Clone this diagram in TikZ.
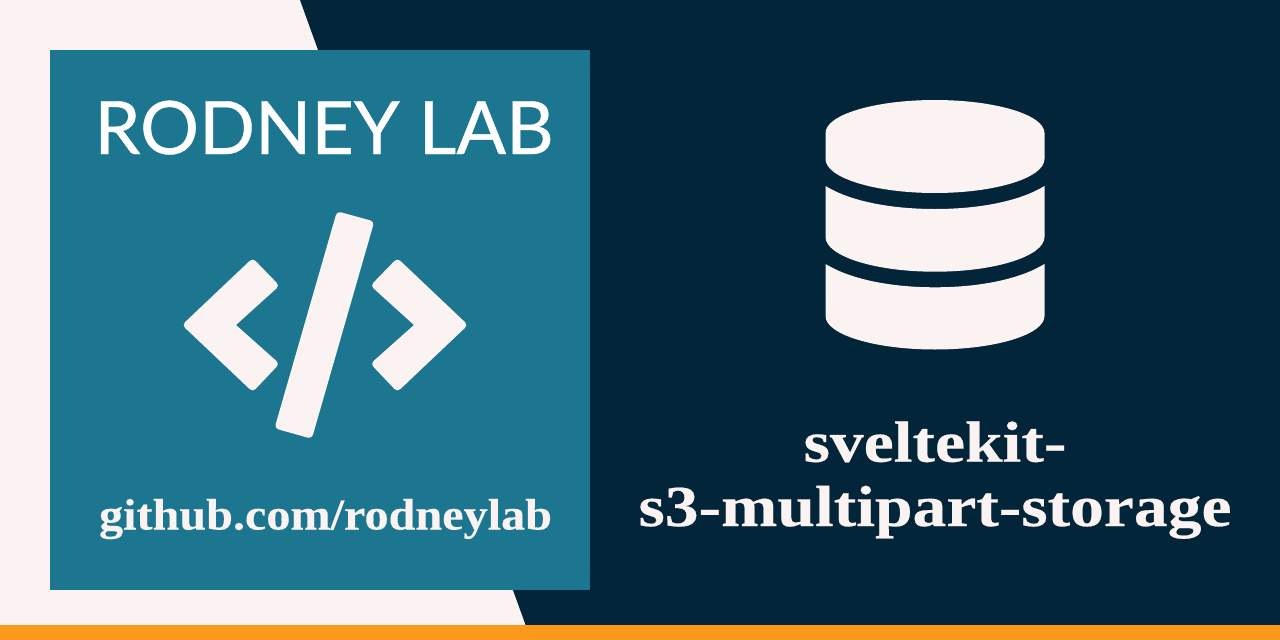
\documentclass[tikz,border=0pt]{standalone}
\usepackage{fontspec}
\setmainfont{Liberation Serif}
\newfontfamily\latofont[FakeBold=0.6]{Lato}
\newfontfamily\namefont[FakeStretch=1.165,FakeBold=0.4]{Liberation Serif}
\newfontfamily\linkfont[FakeStretch=1.095,FakeBold=0.3]{Liberation Serif}
\definecolor{rdark}{HTML}{032539}
\definecolor{rteal}{HTML}{1C768F}
\definecolor{rorange}{HTML}{FA991C}
\definecolor{rlight}{HTML}{FBF3F2}
\tikzset{
  iconshape/.style={fill=rlight,draw=none},
  titletext/.style={text=white,inner sep=0pt,anchor=base,font=\latofont\fontsize{73.6}{73.6}\selectfont},
  serifbold/.style={text=rlight,inner sep=0pt,anchor=base,font=\namefont\bfseries\fontsize{58}{58}\selectfont},
  linktext/.style={text=rlight,inner sep=0pt,anchor=base,font=\linkfont\bfseries\fontsize{44}{44}\selectfont}
}
\begin{document}
\begin{tikzpicture}[x=1pt,y=-1pt]
\useasboundingbox (0,0) rectangle (1280,640);
\fill[rlight] (0,0) rectangle (1280,640);
\fill[rdark] (300,0) -- (1280,0) -- (1280,640) -- (531,640) -- cycle;
\fill[rorange] (0,625) rectangle (1280,640);
\fill[rteal] (50,50) rectangle (590,590);
\node[titletext] (title) at (324,154) {RODNEY LAB};
\node[linktext] (link) at (325.5,529.5) {github.com/rodneylab};
\node[serifbold] (name1) at (935,461.7) {sveltekit-};
\node[serifbold] (name2) at (935,526) {s3-multipart-storage};
% code icon
\fill[iconshape,rounded corners=4pt] (236,325) -- (279.5,285.7) -- (252.7,258) -- (182,325) -- (252.7,392) -- (279.5,363.7) -- (236,325);
\fill[iconshape,rounded corners=4pt] (414,325) -- (370.5,285.7) -- (397.3,258) -- (468,325) -- (397.3,392) -- (370.5,363.7) -- (414,325);
\fill[iconshape,rounded corners=4pt] (337,211.2) -- (374.3,221.5) -- (311.8,438.8) -- (274.5,428.3) -- cycle;
% database icon
\fill[iconshape] (825.5,133) .. controls (825.5,114.8) and (874.5,100) .. (935,100)
  .. controls (995.5,100) and (1044.5,114.8) .. (1044.5,133) -- (1044.5,159)
  .. controls (1044.5,177.8) and (995.5,193) .. (935,193)
  .. controls (874.5,193) and (825.5,177.8) .. (825.5,159) -- cycle;
\fill[iconshape] (825.5,186) .. controls (850,201) and (890,209) .. (935,209)
  .. controls (980,209) and (1020,201) .. (1044.5,186) -- (1044.5,237)
  .. controls (1044.5,256) and (995.5,271.7) .. (935,271.7)
  .. controls (874.5,271.7) and (825.5,256) .. (825.5,237) -- cycle;
\fill[iconshape] (825.5,264) .. controls (850,279) and (890,287.3) .. (935,287.3)
  .. controls (980,287.3) and (1020,279) .. (1044.5,264) -- (1044.5,316)
  .. controls (1044.5,334.5) and (995.5,349.5) .. (935,349.5)
  .. controls (874.5,349.5) and (825.5,334.5) .. (825.5,316) -- cycle;
\end{tikzpicture}
\end{document}
